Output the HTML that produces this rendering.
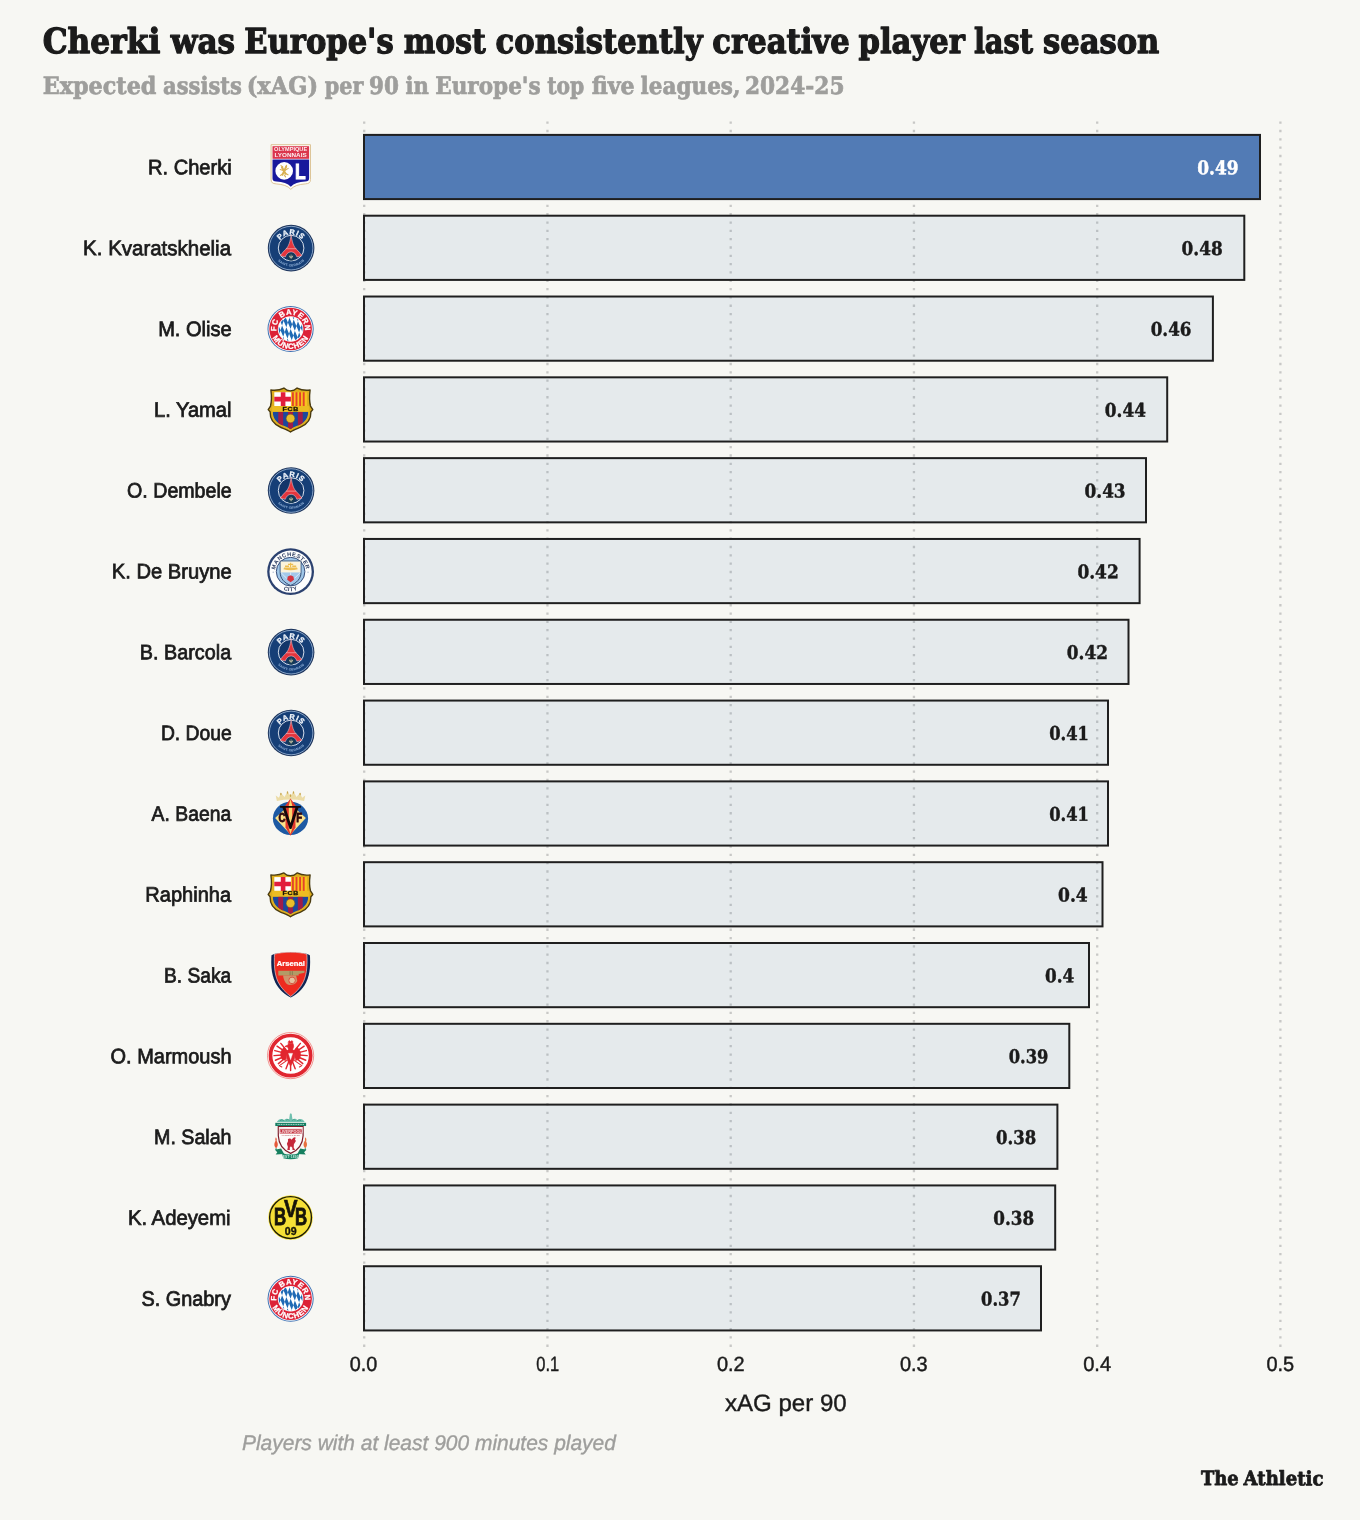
<!DOCTYPE html>
<html lang="en">
<head>
<meta charset="utf-8">
<title>Cherki was Europe's most consistently creative player last season</title>
<style>
html,body{margin:0;padding:0;background:#f7f7f3;}
body{width:1360px;height:1520px;overflow:hidden;}
svg{display:block;}
text{white-space:pre;}
.slab{font-family:"DejaVu Serif", "Liberation Serif", serif;font-weight:bold;}
.sans{font-family:"Liberation Sans", "DejaVu Sans", sans-serif;}
</style>
</head>
<body>
<svg width="1360" height="1520" viewBox="0 0 1360 1520">
<rect x="0" y="0" width="1360" height="1520" fill="#f7f7f3"/>
<g class="slab" font-size="34.4" fill="#1b1b1b" stroke="#1b1b1b" stroke-width="1.3" stroke-linejoin="round"><text transform="translate(42.72,53.00) scale(0.9096,1) rotate(0.03)">Cherki </text>
<text transform="translate(170.78,53.00) scale(0.9022,1) rotate(0.03)">was </text>
<text transform="translate(244.37,53.00) scale(0.8880,1) rotate(0.03)">Europe's </text>
<text transform="translate(403.87,53.00) scale(0.8655,1) rotate(0.03)">most </text>
<text transform="translate(495.59,53.00) scale(0.8905,1) rotate(0.03)">consistently </text>
<text transform="translate(712.34,53.00) scale(0.8918,1) rotate(0.03)">creative </text>
<text transform="translate(858.57,53.00) scale(0.8903,1) rotate(0.03)">player </text>
<text transform="translate(973.90,53.00) scale(0.8384,1) rotate(0.03)">last </text>
<text transform="translate(1042.94,53.00) scale(0.8895,1) rotate(0.03)">season </text></g>
<g class="slab" font-size="24" fill="#9e9e9c" stroke="#9e9e9c" stroke-width="0.7" stroke-linejoin="round"><text transform="translate(42.70,93.90) scale(0.9298,1) rotate(0.03)">Expected </text>
<text transform="translate(163.09,93.90) scale(0.8778,1) rotate(0.03)">assists </text>
<text transform="translate(246.64,93.90) scale(0.9387,1) rotate(0.03)">(xAG) </text>
<text transform="translate(324.68,93.90) scale(0.8649,1) rotate(0.03)">per </text>
<text transform="translate(368.99,93.90) scale(0.8939,1) rotate(0.03)">90 </text>
<text transform="translate(405.59,93.90) scale(0.8783,1) rotate(0.03)">in </text>
<text transform="translate(435.24,93.90) scale(0.8989,1) rotate(0.03)">Europe's </text>
<text transform="translate(547.18,93.90) scale(0.8461,1) rotate(0.03)">top </text>
<text transform="translate(591.65,93.90) scale(0.9223,1) rotate(0.03)">five </text>
<text transform="translate(640.58,93.90) scale(0.8980,1) rotate(0.03)">leagues, </text>
<text transform="translate(744.89,93.90) scale(0.9046,1) rotate(0.03)">2024-25 </text></g>
<g stroke="#c8c8c6" stroke-width="2.3" stroke-dasharray="2.3 6.02" fill="none">
<line x1="364.2" y1="121.55" x2="364.2" y2="1347"/>
<line x1="547.45" y1="121.55" x2="547.45" y2="1347"/>
<line x1="730.7" y1="121.55" x2="730.7" y2="1347"/>
<line x1="913.95" y1="121.55" x2="913.95" y2="1347"/>
<line x1="1097.2" y1="121.55" x2="1097.2" y2="1347"/>
<line x1="1280.4" y1="121.55" x2="1280.4" y2="1347"/>
</g>
<g stroke="#1f1f1f" stroke-width="2.0" fill="#527bb5">
<rect x="364.00" y="134.90" width="896.00" height="64.20" fill-opacity="1"/>
<rect x="364.00" y="215.71" width="880.30" height="64.20" fill-opacity="0.1"/>
<rect x="364.00" y="296.52" width="848.90" height="64.20" fill-opacity="0.1"/>
<rect x="364.00" y="377.33" width="803.20" height="64.20" fill-opacity="0.1"/>
<rect x="364.00" y="458.14" width="782.00" height="64.20" fill-opacity="0.1"/>
<rect x="364.00" y="538.95" width="775.60" height="64.20" fill-opacity="0.1"/>
<rect x="364.00" y="619.76" width="764.50" height="64.20" fill-opacity="0.1"/>
<rect x="364.00" y="700.57" width="744.00" height="64.20" fill-opacity="0.1"/>
<rect x="364.00" y="781.38" width="744.00" height="64.20" fill-opacity="0.1"/>
<rect x="364.00" y="862.19" width="738.50" height="64.20" fill-opacity="0.1"/>
<rect x="364.00" y="943.00" width="725.00" height="64.20" fill-opacity="0.1"/>
<rect x="364.00" y="1023.81" width="705.30" height="64.20" fill-opacity="0.1"/>
<rect x="364.00" y="1104.62" width="693.40" height="64.20" fill-opacity="0.1"/>
<rect x="364.00" y="1185.43" width="691.20" height="64.20" fill-opacity="0.1"/>
<rect x="364.00" y="1266.24" width="677.00" height="64.20" fill-opacity="0.1"/>
</g>
<g class="slab" font-size="18.8" fill="#1b1b1b" stroke="#1b1b1b" stroke-width="0.45">
<text transform="translate(1197.30,174.20) scale(0.9050,1) rotate(0.03)" fill="#ffffff" stroke="#ffffff">0.49</text>
<text transform="translate(1181.61,255.01) scale(0.8989,1) rotate(0.03)">0.48</text>
<text transform="translate(1150.71,335.82) scale(0.8921,1) rotate(0.03)">0.46</text>
<text transform="translate(1104.81,416.63) scale(0.8989,1) rotate(0.03)">0.44</text>
<text transform="translate(1084.51,497.44) scale(0.8981,1) rotate(0.03)">0.43</text>
<text transform="translate(1077.40,578.25) scale(0.9034,1) rotate(0.03)">0.42</text>
<text transform="translate(1066.81,659.06) scale(0.8988,1) rotate(0.03)">0.42</text>
<text transform="translate(1049.23,739.87) scale(0.8687,1) rotate(0.03)">0.41</text>
<text transform="translate(1049.23,820.68) scale(0.8687,1) rotate(0.03)">0.41</text>
<text transform="translate(1058.00,901.49) scale(0.9105,1) rotate(0.03)">0.4</text>
<text transform="translate(1045.01,982.30) scale(0.8944,1) rotate(0.03)">0.4</text>
<text transform="translate(1008.73,1063.11) scale(0.8685,1) rotate(0.03)">0.39</text>
<text transform="translate(996.03,1143.92) scale(0.8786,1) rotate(0.03)">0.38</text>
<text transform="translate(993.31,1224.73) scale(0.8921,1) rotate(0.03)">0.38</text>
<text transform="translate(981.03,1305.54) scale(0.8697,1) rotate(0.03)">0.37</text>
</g>
<g class="sans" font-size="20.8" fill="#1b1b1b" stroke="#1b1b1b" stroke-width="0.75">
<text transform="translate(148.03,174.30) scale(0.9655,1) rotate(0.03)">R. Cherki</text>
<text transform="translate(83.10,255.11) scale(0.9852,1) rotate(0.03)">K. Kvaratskhelia</text>
<text transform="translate(158.13,335.92) scale(0.9654,1) rotate(0.03)">M. Olise</text>
<text transform="translate(153.93,416.73) scale(0.9685,1) rotate(0.03)">L. Yamal</text>
<text transform="translate(127.08,497.54) scale(0.9431,1) rotate(0.03)">O. Dembele</text>
<text transform="translate(111.82,578.35) scale(0.9696,1) rotate(0.03)">K. De Bruyne</text>
<text transform="translate(139.85,659.16) scale(0.9517,1) rotate(0.03)">B. Barcola</text>
<text transform="translate(160.89,739.97) scale(0.9284,1) rotate(0.03)">D. Doue</text>
<text transform="translate(151.60,820.78) scale(0.9299,1) rotate(0.03)">A. Baena</text>
<text transform="translate(145.33,901.59) scale(0.9639,1) rotate(0.03)">Raphinha</text>
<text transform="translate(164.00,982.40) scale(0.9222,1) rotate(0.03)">B. Saka</text>
<text transform="translate(110.56,1063.21) scale(0.9609,1) rotate(0.03)">O. Marmoush</text>
<text transform="translate(154.06,1144.02) scale(0.9446,1) rotate(0.03)">M. Salah</text>
<text transform="translate(127.91,1224.83) scale(0.9762,1) rotate(0.03)">K. Adeyemi</text>
<text transform="translate(141.48,1305.64) scale(0.9560,1) rotate(0.03)">S. Gnabry</text>
</g>
<g transform="translate(290.80,167.00)"><g transform="translate(0,0.1)">
<path d="M-19.7,-22.4 H19.7 V12.2 C19.7,15.6 18.2,16.5 14.6,16.8 C8,17.3 3,18.7 0,22.2 C-3,18.7 -8,17.3 -14.6,16.8 C-18.2,16.5 -19.7,15.6 -19.7,12.2 Z" fill="#fefdfb" stroke="#d9bd8c" stroke-width="0.9"/>
<rect x="-18.3" y="-20.9" width="36.6" height="12.6" fill="#db364d"/>
<path d="M-18.3,-7.5 H18.3 V11.2 C18.3,13.6 17.1,14.3 14.4,14.5 C8,15 3,16.4 0,19.6 C-3,16.4 -8,15 -14.4,14.5 C-17.1,14.3 -18.3,13.6 -18.3,11.2 Z" fill="#18189c"/>
<circle cx="-6.6" cy="3.8" r="8.8" fill="#ffffff"/>
<g fill="none" stroke="#d9b152" stroke-linecap="round" stroke-linejoin="round">
<path d="M-8.8,0.3 L-5.2,6.7 M-4.6,-0.5 L-8.4,7.7" stroke-width="2"/>
<path d="M-10.6,2.5 L-7.6,3.5 M-2.6,1.3 L-5.6,3.3 M-10.4,8.3 L-7.6,6.3 M-2.8,7.7 L-5.2,6.3 M-9.8,-1.5 L-8,-0.1 M-4.2,-1.9 L-5,-0.1 M-6.4,8.1 L-5.2,9.7" stroke-width="1.1"/>
</g>
<text transform="translate(4.3,11.4) scale(0.8,1)" font-family="'Liberation Sans','DejaVu Sans',sans-serif" font-weight="bold" font-size="21.8" fill="#ffffff" stroke="#ffffff" stroke-width="1">L</text>
<g font-family="'Liberation Sans','DejaVu Sans',sans-serif" font-weight="bold" fill="#ffffff" fill-opacity="0.92" text-anchor="middle" font-size="5.6">
<text transform="translate(-0.2,-16.1) scale(1.0,1)">OLYMPIQUE</text>
<text transform="translate(-0.2,-10.3) scale(1.13,1)">LYONNAIS</text>
</g>
</g></g>
<g transform="translate(290.80,247.81)"><g transform="translate(0.3,0.3)">
<circle r="23.3" fill="#1c345c"/>
<circle r="21.8" fill="#163f77" stroke="#a9c6e6" stroke-width="0.75"/>
<circle r="12.8" fill="#12366a" stroke="#e9eff8" stroke-width="0.9"/>
<path d="M0,-13.8 C0.9,-6 2.6,-1.6 5.2,1 C7.4,3.2 9.4,5.4 10.9,7.6 L5.8,8.8 C4.8,6 3,3.8 0,3.8 C-3,3.8 -4.8,6 -5.8,8.8 L-10.9,7.6 C-9.4,5.4 -7.4,3.2 -5.2,1 C-2.6,-1.6 -0.9,-6 0,-13.8 Z" fill="#e4353d" stroke="#f3d9dc" stroke-width="0.5"/>
<path d="M-5.2,0.6 H5.2" stroke="#f4aeb1" stroke-width="0.7" fill="none"/>
<circle cx="0" cy="8.6" r="3.9" fill="#163a55"/>
<path d="M0,6.4 V10.8 M-1.9,8.7 H1.9 M-1.6,7.5 Q-1.6,9.5 0,9.7 Q1.6,9.5 1.6,7.5" stroke="#d9d2b0" stroke-width="0.6" fill="none"/>
<path id="psgA2" d="M-13.7,0 A13.7,13.7 0 0 1 13.7,0" fill="none"/>
<path id="psgB2" d="M-18.4,0 A18.4,18.4 0 0 0 18.4,0" fill="none"/>
<text font-family="'Liberation Sans','DejaVu Sans',sans-serif" font-weight="bold" font-size="7.3" fill="#eef3fa" stroke="#eef3fa" stroke-width="0.3" text-anchor="middle" letter-spacing="0.8"><textPath href="#psgA2" startOffset="50%">PARIS</textPath></text>
<text font-family="'Liberation Sans','DejaVu Sans',sans-serif" font-weight="bold" font-size="3.3" fill="#8fb0d8" text-anchor="middle" letter-spacing="0.25"><textPath href="#psgB2" startOffset="50%">SAINT-GERMAIN</textPath></text>
</g></g>
<g transform="translate(290.80,328.62)"><g transform="translate(-0.2,0.4)">
<circle r="23.1" fill="#3f73b4"/>
<circle r="22.1" fill="#ffffff"/>
<circle r="21.3" fill="#dc2237"/>
<circle r="12.8" fill="#ffffff"/>
<clipPath id="bayC3"><circle r="11.9"/></clipPath>
<g clip-path="url(#bayC3)">
<rect x="-13" y="-13" width="26" height="26" fill="#ffffff"/>
<g transform="rotate(22) skewX(28) scale(0.92,1.25)" fill="#1f6ab5">
<path d="M-17.5,-12 l2.5,-4 2.5,4 -2.5,4z m5,0 l2.5,-4 2.5,4 -2.5,4z m5,0 l2.5,-4 2.5,4 -2.5,4z m5,0 l2.5,-4 2.5,4 -2.5,4z m5,0 l2.5,-4 2.5,4 -2.5,4z m5,0 l2.5,-4 2.5,4 -2.5,4z m5,0 l2.5,-4 2.5,4 -2.5,4z"/>
<path d="M-17.5,-4 l2.5,-4 2.5,4 -2.5,4z m5,0 l2.5,-4 2.5,4 -2.5,4z m5,0 l2.5,-4 2.5,4 -2.5,4z m5,0 l2.5,-4 2.5,4 -2.5,4z m5,0 l2.5,-4 2.5,4 -2.5,4z m5,0 l2.5,-4 2.5,4 -2.5,4z m5,0 l2.5,-4 2.5,4 -2.5,4z"/>
<path d="M-17.5,4 l2.5,-4 2.5,4 -2.5,4z m5,0 l2.5,-4 2.5,4 -2.5,4z m5,0 l2.5,-4 2.5,4 -2.5,4z m5,0 l2.5,-4 2.5,4 -2.5,4z m5,0 l2.5,-4 2.5,4 -2.5,4z m5,0 l2.5,-4 2.5,4 -2.5,4z m5,0 l2.5,-4 2.5,4 -2.5,4z"/>
<path d="M-17.5,12 l2.5,-4 2.5,4 -2.5,4z m5,0 l2.5,-4 2.5,4 -2.5,4z m5,0 l2.5,-4 2.5,4 -2.5,4z m5,0 l2.5,-4 2.5,4 -2.5,4z m5,0 l2.5,-4 2.5,4 -2.5,4z m5,0 l2.5,-4 2.5,4 -2.5,4z m5,0 l2.5,-4 2.5,4 -2.5,4z"/>
</g>
</g>
<path id="bayA3" d="M-14.4,0 A14.4,14.4 0 0 1 14.4,0" fill="none"/>
<path id="bayB3" d="M-19.9,0 A19.9,19.9 0 0 0 19.9,0" fill="none"/>
<g font-family="'Liberation Sans','DejaVu Sans',sans-serif" font-weight="bold" font-size="7.7" fill="#ffffff" stroke="#ffffff" stroke-width="0.25" text-anchor="middle">
<text letter-spacing="0.55"><textPath href="#bayA3" startOffset="50%">FC BAYERN</textPath></text>
<text letter-spacing="0.75"><textPath href="#bayB3" startOffset="50%">MÜNCHEN</textPath></text>
</g>
</g></g>
<g transform="translate(290.80,409.43)"><g transform="translate(-0.3,0.2)">
<path d="M-19.6,-19.6 C-15,-19 -10,-19.8 -6.6,-21.6 C-4.6,-19.6 -2.4,-18.8 0,-18.8 C2.4,-18.8 4.6,-19.6 6.6,-21.6 C10,-19.8 15,-19 19.6,-19.6 C19,-15 18.6,-9 20,-3.6 L22.3,0 L20.4,2.2 C20.6,9 17,14.6 10,17.6 C5.6,19.4 2.4,20.4 0,22.3 C-2.4,20.4 -5.6,19.4 -10,17.6 C-17,14.6 -20.6,9 -20.4,2.2 L-22.3,0 L-20,-3.6 C-18.6,-9 -19,-15 -19.6,-19.6 Z" fill="#dfae1e" stroke="#4a3b10" stroke-width="1.4" stroke-linejoin="round"/>
<rect x="-16.2" y="-17.4" width="16.6" height="13.8" fill="#ffffff"/>
<path d="M-9.7,-17.4 h4.6 v4.6 h5.5 v4.6 h-5.5 v4.6 h-4.6 v-4.6 h-6.5 v-4.6 h6.5 z" fill="#e21d3c"/>
<rect x="0.8" y="-17.4" width="15.6" height="13.8" fill="#f9c51d"/>
<path d="M2.4,-17.4 v13.8 M6,-17.4 v13.8 M9.6,-17.4 v13.8 M13.2,-17.4 v13.8" stroke="#e4432a" stroke-width="1.9"/>
<rect x="-18.4" y="-3.6" width="36.8" height="5.6" fill="#ecbc22"/>
<clipPath id="barC4"><path d="M-17.8,2 H17.8 C17.6,8 14.4,12.8 8.6,15.4 C5,17 2.2,17.9 0,19.6 C-2.2,17.9 -5,17 -8.6,15.4 C-14.4,12.8 -17.6,8 -17.8,2 Z"/></clipPath>
<g clip-path="url(#barC4)">
<rect x="-18" y="2" width="36" height="18" fill="#1b489c"/>
<path d="M-9.8,2 v18 M0,2 v18 M9.8,2 v18" stroke="#a01c48" stroke-width="4.9"/>
</g>
<circle cx="0" cy="8.8" r="4.3" fill="#e9bd2b" stroke="#7a5f10" stroke-width="0.5"/>
<text transform="translate(0.2,1.0) scale(1.3,1)" font-family="'Liberation Sans','DejaVu Sans',sans-serif" font-weight="bold" font-size="5.4" fill="#1a1508" text-anchor="middle" letter-spacing="0.5" stroke="#1a1508" stroke-width="0.3">FCB</text>
</g></g>
<g transform="translate(290.80,490.24)"><g transform="translate(0.3,0.3)">
<circle r="23.3" fill="#1c345c"/>
<circle r="21.8" fill="#163f77" stroke="#a9c6e6" stroke-width="0.75"/>
<circle r="12.8" fill="#12366a" stroke="#e9eff8" stroke-width="0.9"/>
<path d="M0,-13.8 C0.9,-6 2.6,-1.6 5.2,1 C7.4,3.2 9.4,5.4 10.9,7.6 L5.8,8.8 C4.8,6 3,3.8 0,3.8 C-3,3.8 -4.8,6 -5.8,8.8 L-10.9,7.6 C-9.4,5.4 -7.4,3.2 -5.2,1 C-2.6,-1.6 -0.9,-6 0,-13.8 Z" fill="#e4353d" stroke="#f3d9dc" stroke-width="0.5"/>
<path d="M-5.2,0.6 H5.2" stroke="#f4aeb1" stroke-width="0.7" fill="none"/>
<circle cx="0" cy="8.6" r="3.9" fill="#163a55"/>
<path d="M0,6.4 V10.8 M-1.9,8.7 H1.9 M-1.6,7.5 Q-1.6,9.5 0,9.7 Q1.6,9.5 1.6,7.5" stroke="#d9d2b0" stroke-width="0.6" fill="none"/>
<path id="psgA5" d="M-13.7,0 A13.7,13.7 0 0 1 13.7,0" fill="none"/>
<path id="psgB5" d="M-18.4,0 A18.4,18.4 0 0 0 18.4,0" fill="none"/>
<text font-family="'Liberation Sans','DejaVu Sans',sans-serif" font-weight="bold" font-size="7.3" fill="#eef3fa" stroke="#eef3fa" stroke-width="0.3" text-anchor="middle" letter-spacing="0.8"><textPath href="#psgA5" startOffset="50%">PARIS</textPath></text>
<text font-family="'Liberation Sans','DejaVu Sans',sans-serif" font-weight="bold" font-size="3.3" fill="#8fb0d8" text-anchor="middle" letter-spacing="0.25"><textPath href="#psgB5" startOffset="50%">SAINT-GERMAIN</textPath></text>
</g></g>
<g transform="translate(290.80,571.05)"><g transform="translate(-0.2,0.6)">
<circle r="23.4" fill="#2b416f"/>
<circle r="21.1" fill="#fdfdfd"/>
<circle r="14.3" fill="#9fc6e8" stroke="#2b416f" stroke-width="0.9"/>
<path d="M-10.4,-10.6 H10.4 V1 C10.4,7 6,11.4 0,13.8 C-6,11.4 -10.4,7 -10.4,1 Z" fill="#a3c8ea" stroke="#2b3f63" stroke-width="0.9"/>
<path d="M-9.9,-10.1 H9.9 V0.8 H-9.9 Z" fill="#fbf3dc"/>
<path d="M-7.2,-2.4 Q0,-0.6 7.2,-2.4 L6.4,-4.2 H-6.4 Z M-0.6,-8.8 h1.2 v4.4 h-1.2 z M-5.6,-6.2 h4 v1.6 h-4 z M1.6,-6.2 h4 v1.6 h-4 z M-2.6,-7.8 h5.2 v1.2 h-5.2 z" fill="#ecbd52"/>
<path d="M0,3.6 L2.8,4.8 3.4,8 0,10.6 -3.4,8 -2.8,4.8 Z" fill="#d6343f"/>
<path d="M-9.6,1 L-4,6.6 M9.6,1 L4,6.6 M0,1 V3.6" stroke="#ffffff" stroke-width="0.8" opacity="0.75" fill="none"/>
<path id="mcA6" d="M-15.5,0 A15.5,15.5 0 0 1 15.5,0" fill="none"/>
<path id="mcB6" d="M-19.6,0 A19.6,19.6 0 0 0 19.6,0" fill="none"/>
<g font-family="'Liberation Sans','DejaVu Sans',sans-serif" font-weight="bold" fill="#27375c" text-anchor="middle">
<text font-size="5.6" letter-spacing="0.5"><textPath href="#mcA6" startOffset="50%">MANCHESTER</textPath></text>
<text font-size="5.6" letter-spacing="0.5"><textPath href="#mcB6" startOffset="50%">CITY</textPath></text>
</g>
<circle cx="-17.4" cy="0.6" r="0.7" fill="#a9b6cd"/><circle cx="17.4" cy="0.6" r="0.7" fill="#a9b6cd"/>
</g></g>
<g transform="translate(290.80,651.86)"><g transform="translate(0.3,0.3)">
<circle r="23.3" fill="#1c345c"/>
<circle r="21.8" fill="#163f77" stroke="#a9c6e6" stroke-width="0.75"/>
<circle r="12.8" fill="#12366a" stroke="#e9eff8" stroke-width="0.9"/>
<path d="M0,-13.8 C0.9,-6 2.6,-1.6 5.2,1 C7.4,3.2 9.4,5.4 10.9,7.6 L5.8,8.8 C4.8,6 3,3.8 0,3.8 C-3,3.8 -4.8,6 -5.8,8.8 L-10.9,7.6 C-9.4,5.4 -7.4,3.2 -5.2,1 C-2.6,-1.6 -0.9,-6 0,-13.8 Z" fill="#e4353d" stroke="#f3d9dc" stroke-width="0.5"/>
<path d="M-5.2,0.6 H5.2" stroke="#f4aeb1" stroke-width="0.7" fill="none"/>
<circle cx="0" cy="8.6" r="3.9" fill="#163a55"/>
<path d="M0,6.4 V10.8 M-1.9,8.7 H1.9 M-1.6,7.5 Q-1.6,9.5 0,9.7 Q1.6,9.5 1.6,7.5" stroke="#d9d2b0" stroke-width="0.6" fill="none"/>
<path id="psgA7" d="M-13.7,0 A13.7,13.7 0 0 1 13.7,0" fill="none"/>
<path id="psgB7" d="M-18.4,0 A18.4,18.4 0 0 0 18.4,0" fill="none"/>
<text font-family="'Liberation Sans','DejaVu Sans',sans-serif" font-weight="bold" font-size="7.3" fill="#eef3fa" stroke="#eef3fa" stroke-width="0.3" text-anchor="middle" letter-spacing="0.8"><textPath href="#psgA7" startOffset="50%">PARIS</textPath></text>
<text font-family="'Liberation Sans','DejaVu Sans',sans-serif" font-weight="bold" font-size="3.3" fill="#8fb0d8" text-anchor="middle" letter-spacing="0.25"><textPath href="#psgB7" startOffset="50%">SAINT-GERMAIN</textPath></text>
</g></g>
<g transform="translate(290.80,732.67)"><g transform="translate(0.3,0.3)">
<circle r="23.3" fill="#1c345c"/>
<circle r="21.8" fill="#163f77" stroke="#a9c6e6" stroke-width="0.75"/>
<circle r="12.8" fill="#12366a" stroke="#e9eff8" stroke-width="0.9"/>
<path d="M0,-13.8 C0.9,-6 2.6,-1.6 5.2,1 C7.4,3.2 9.4,5.4 10.9,7.6 L5.8,8.8 C4.8,6 3,3.8 0,3.8 C-3,3.8 -4.8,6 -5.8,8.8 L-10.9,7.6 C-9.4,5.4 -7.4,3.2 -5.2,1 C-2.6,-1.6 -0.9,-6 0,-13.8 Z" fill="#e4353d" stroke="#f3d9dc" stroke-width="0.5"/>
<path d="M-5.2,0.6 H5.2" stroke="#f4aeb1" stroke-width="0.7" fill="none"/>
<circle cx="0" cy="8.6" r="3.9" fill="#163a55"/>
<path d="M0,6.4 V10.8 M-1.9,8.7 H1.9 M-1.6,7.5 Q-1.6,9.5 0,9.7 Q1.6,9.5 1.6,7.5" stroke="#d9d2b0" stroke-width="0.6" fill="none"/>
<path id="psgA8" d="M-13.7,0 A13.7,13.7 0 0 1 13.7,0" fill="none"/>
<path id="psgB8" d="M-18.4,0 A18.4,18.4 0 0 0 18.4,0" fill="none"/>
<text font-family="'Liberation Sans','DejaVu Sans',sans-serif" font-weight="bold" font-size="7.3" fill="#eef3fa" stroke="#eef3fa" stroke-width="0.3" text-anchor="middle" letter-spacing="0.8"><textPath href="#psgA8" startOffset="50%">PARIS</textPath></text>
<text font-family="'Liberation Sans','DejaVu Sans',sans-serif" font-weight="bold" font-size="3.3" fill="#8fb0d8" text-anchor="middle" letter-spacing="0.25"><textPath href="#psgB8" startOffset="50%">SAINT-GERMAIN</textPath></text>
</g></g>
<g transform="translate(290.80,813.48)"><g transform="translate(-0.3,0)">
<path d="M-13.6,-12.6 L-14.8,-18 L-11.6,-15.8 L-9.6,-20.6 L-6,-16.6 L-3,-22 L0,-17.4 L3,-22 L6,-16.6 L9.6,-20.6 L11.6,-15.8 L14.8,-18 L13.6,-12.6 Q0,-15.4 -13.6,-12.6 Z" fill="#ecdca6"/>
<path d="M-9.6,-20.2 v1.2 M-3,-21.6 v1.2 M3,-21.6 v1.2 M9.6,-20.2 v1.2 M0,-18.6 v1.4" stroke="#c8a64e" stroke-width="1.3" stroke-linecap="round"/>
<ellipse cx="0" cy="4.9" rx="17.6" ry="16.6" fill="#1d59a3"/>
<path d="M0,-9.6 L15.4,4.4 L0,21 L-15.4,4.4 Z" fill="#fde38a"/>
<path d="M0,-15 L5,-8 L5,14 L0,22.3 L-5,14 L-5,-8 Z" fill="#e2372c"/>
<path d="M0,-14.6 L1.7,-8 V15 L0,20.6 L-1.7,15 V-8 Z" fill="#fbd66e"/>
<path d="M-10.4,-7.6 H10.4 V-5.8 H8 L0.9,15.4 H-0.9 L-8,-5.8 H-10.4 Z M-4.9,-5.8 L0,9.6 L4.9,-5.8 Z" fill="#14090b" fill-rule="evenodd"/>
<g font-family="'Liberation Sans','DejaVu Sans',sans-serif" font-weight="bold" font-size="12" fill="#33090e" stroke="#33090e" stroke-width="0.8" text-anchor="middle">
<text transform="translate(-8.6,8.8) scale(0.8,1)">C</text>
<text transform="translate(8.8,8.8) scale(0.8,1)">F</text>
</g>
</g></g>
<g transform="translate(290.80,894.29)"><g transform="translate(-0.3,0.2)">
<path d="M-19.6,-19.6 C-15,-19 -10,-19.8 -6.6,-21.6 C-4.6,-19.6 -2.4,-18.8 0,-18.8 C2.4,-18.8 4.6,-19.6 6.6,-21.6 C10,-19.8 15,-19 19.6,-19.6 C19,-15 18.6,-9 20,-3.6 L22.3,0 L20.4,2.2 C20.6,9 17,14.6 10,17.6 C5.6,19.4 2.4,20.4 0,22.3 C-2.4,20.4 -5.6,19.4 -10,17.6 C-17,14.6 -20.6,9 -20.4,2.2 L-22.3,0 L-20,-3.6 C-18.6,-9 -19,-15 -19.6,-19.6 Z" fill="#dfae1e" stroke="#4a3b10" stroke-width="1.4" stroke-linejoin="round"/>
<rect x="-16.2" y="-17.4" width="16.6" height="13.8" fill="#ffffff"/>
<path d="M-9.7,-17.4 h4.6 v4.6 h5.5 v4.6 h-5.5 v4.6 h-4.6 v-4.6 h-6.5 v-4.6 h6.5 z" fill="#e21d3c"/>
<rect x="0.8" y="-17.4" width="15.6" height="13.8" fill="#f9c51d"/>
<path d="M2.4,-17.4 v13.8 M6,-17.4 v13.8 M9.6,-17.4 v13.8 M13.2,-17.4 v13.8" stroke="#e4432a" stroke-width="1.9"/>
<rect x="-18.4" y="-3.6" width="36.8" height="5.6" fill="#ecbc22"/>
<clipPath id="barC10"><path d="M-17.8,2 H17.8 C17.6,8 14.4,12.8 8.6,15.4 C5,17 2.2,17.9 0,19.6 C-2.2,17.9 -5,17 -8.6,15.4 C-14.4,12.8 -17.6,8 -17.8,2 Z"/></clipPath>
<g clip-path="url(#barC10)">
<rect x="-18" y="2" width="36" height="18" fill="#1b489c"/>
<path d="M-9.8,2 v18 M0,2 v18 M9.8,2 v18" stroke="#a01c48" stroke-width="4.9"/>
</g>
<circle cx="0" cy="8.8" r="4.3" fill="#e9bd2b" stroke="#7a5f10" stroke-width="0.5"/>
<text transform="translate(0.2,1.0) scale(1.3,1)" font-family="'Liberation Sans','DejaVu Sans',sans-serif" font-weight="bold" font-size="5.4" fill="#1a1508" text-anchor="middle" letter-spacing="0.5" stroke="#1a1508" stroke-width="0.3">FCB</text>
</g></g>
<g transform="translate(290.80,975.10)"><g transform="translate(-0.1,0.1)">
<path d="M-19.2,-20 C-12,-23.8 12,-23.8 19.2,-20 C19.7,-12 19.8,-2 15.4,7.2 C11.6,15 5,19.6 0,22.4 C-5,19.6 -11.6,15 -15.4,7.2 C-19.8,-2 -19.7,-12 -19.2,-20 Z" fill="#0f2352"/>
<path d="M-16.2,-21 C-9,-23.6 9,-23.6 16.2,-21 C16.6,-12 16.6,-2 12.8,6.4 C9.6,13.2 4.4,18 0,21.2 C-4.4,18 -9.6,13.2 -12.8,6.4 C-16.6,-2 -16.6,-12 -16.2,-21 Z" fill="#ee2a1f" stroke="#f6e3df" stroke-width="0.6"/>
<path d="M-12.4,-4.4 H13.8 V-2.4 L8,-1.2 V0.2 H-12.4 Z" fill="#b39b66"/>
<path d="M-7.6,0.2 H5.4 L6.6,5.8 C5,8.8 2,9.8 -1.6,9.8 C-5,8.8 -7,5.2 -7.6,0.2 Z" fill="#c9a67a" opacity="0.85"/>
<circle cx="1.4" cy="5.2" r="3.3" fill="#e6c3a0" stroke="#d9533f" stroke-width="1"/>
<path d="M-0.6,-4 V0 M1.6,-4 V0" stroke="#5c5a3c" stroke-width="0.5"/>
<text transform="translate(0.1,-9.2) scale(0.94,1)" font-family="'Liberation Sans','DejaVu Sans',sans-serif" font-weight="bold" font-size="8.1" fill="#ffffff" stroke="#ffffff" stroke-width="0.25" text-anchor="middle">Arsenal</text>
</g></g>
<g transform="translate(290.80,1055.91)"><g transform="translate(-0.2,-0.3)">
<circle r="23.1" fill="#fdf6f4" stroke="#ee6a66" stroke-width="0.7"/>
<circle r="20.1" fill="#ffffff" stroke="#e02630" stroke-width="3.7"/>
<g fill="#e2262f" stroke="#e2262f" stroke-linecap="round" stroke-linejoin="round">
<path d="M-2.4,-13.8 L-1.4,-15.2 L0,-14 L1.4,-15.2 L2.4,-13.8 L2,-12.6 H-2 Z" stroke-width="0.4"/>
<path d="M-2,-12.2 H2.4 L3,-9 L2,-6.4 L4.4,-3 L3.4,4 L0,10.4 L-3.4,4 L-4.4,-3 L-2,-6.4 L-2.8,-8.6 L-5.6,-9.2 L-2.6,-10.6 Z" stroke-width="0.8"/>
<path d="M-3,-5 L-7,-8 L-9.6,-4 L-10,0 L-8.6,3.6 L-5,5 Z M3,-5 L7,-8 L9.6,-4 L10,0 L8.6,3.6 L5,5 Z" stroke-width="0.6"/>
<g stroke-width="1.45" fill="none">
<path d="M-5,-6.4 L-9.8,-12.2 M-7,-5 L-13.6,-9.4 M-8,-3 L-15.8,-5 M-8.4,-0.6 L-16.6,0 M-8,1.6 L-15.2,4.6 M-6.6,3.4 L-12.2,8"/>
<path d="M5,-6.4 L9.8,-12.2 M7,-5 L13.6,-9.4 M8,-3 L15.8,-5 M8.4,-0.6 L16.6,0 M8,1.6 L15.2,4.6 M6.6,3.4 L12.2,8"/>
<path d="M-1.8,6 L-4.6,13.2 M0,7 V15 M1.8,6 L4.6,13.2"/>
<path d="M-4,5 L-11.2,10 L-8.8,11.4 M4,5 L11.2,10 L8.8,11.4" stroke-width="1.1"/>
</g>
</g>
<path d="M-2.2,-2.4 H2.2 L0,4.4 Z" fill="#ffffff" stroke="#f2c4c2" stroke-width="0.3"/>
</g></g>
<g transform="translate(290.80,1136.72)"><g transform="translate(-0.3,0)">
<path d="M-13.6,-14.6 C-12,-18 -8.6,-18.4 -6.4,-16.6 C-4.4,-18.6 -2.4,-18.4 -1.4,-17 L-0.6,-22.6 L0.3,-23.4 L1.2,-22.6 L2,-17 C3,-18.4 5,-18.6 7,-16.6 C9.2,-18.4 12.6,-18 14.2,-14.6 Z" fill="#6fc0ae"/>
<path d="M-10.6,-16 q2,-1.6 4,0 M6.6,-16 q2,-1.6 4,0 M-4.6,-16.4 q2,-1.4 3.6,0 M1.4,-16.4 q2,-1.4 3.6,0" stroke="#2f927c" stroke-width="0.7" fill="none"/>
<rect x="-15.2" y="-13.9" width="30.8" height="3.2" fill="#157d62"/>
<path d="M-13,-12.3 H13.4" stroke="#bfe5da" stroke-width="0.9" stroke-dasharray="1.1 0.6" fill="none"/>
<path d="M-12.2,-10.2 H12.6 V-1 C12.2,7.4 8,13.4 0.2,16.6 C-7.6,13.4 -11.8,7.4 -12.2,-1 Z" fill="#fdfbfa" stroke="#7d1c2a" stroke-width="1.2"/>
<path d="M-11.6,-9.6 Q0.2,-7.2 12,-9.6 V-3.4 H-11.6 Z" fill="#f7e4e4"/>
<rect x="-10.8" y="-7.4" width="22" height="4.2" fill="#c3323f"/>
<text transform="translate(0.2,-4.2) scale(1.02,1)" font-family="'Liberation Sans','DejaVu Sans',sans-serif" font-weight="bold" font-size="3.7" fill="#fbeaea" text-anchor="middle" letter-spacing="0.1">LIVERPOOL</text>
<text transform="translate(0.2,-1.2)" font-family="'Liberation Sans','DejaVu Sans',sans-serif" font-weight="bold" font-size="1.9" fill="#b9606a" text-anchor="middle" letter-spacing="0.15">FOOTBALL CLUB</text>
<path d="M-2.6,2.6 C-1.6,1.4 0.4,1.6 0.8,3 L3.6,0.6 L5.4,1 L4.4,2.6 L5.4,4.4 L3.4,7.6 L3.2,10.8 L4.6,13.4 H2 L1.8,11 L0.4,9.6 L-0.8,11 L-0.6,13.4 H-3.2 L-2.6,10.2 L-3.6,7 L-2.4,4.4 Z" fill="#c5283a"/>
<path d="M-14.4,3.6 C-16.8,6.6 -16.6,9.6 -14.4,11.6 C-12.2,9.6 -12,6.6 -14.4,3.6 Z M-14.6,0.6 C-15.6,2.4 -15.2,4 -14.2,5.2 C-13.4,3.6 -13.6,2 -14.6,0.6 Z" fill="#e5583a"/>
<path d="M14.8,3.6 C12.4,6.6 12.6,9.6 14.8,11.6 C17,9.6 17.2,6.6 14.8,3.6 Z M15,0.6 C14,2.4 14.4,4 15.4,5.2 C16.2,3.6 16,2 15,0.6 Z" fill="#e8703f"/>
<path d="M-14.4,11.6 V13.4 M14.8,11.6 V13.4" stroke="#2f8d6f" stroke-width="1.2"/>
<path d="M-15.6,13 L-9.4,11.8 L-6.4,17.4 L-14.8,17.8 L-13.2,15.6 Z M16,13 L9.8,11.8 L6.8,17.4 L15.2,17.8 L13.6,15.6 Z" fill="#16805f"/>
<path d="M-8.6,16.4 Q0.2,19.4 9,16.4 L7.6,21.6 Q0.2,23.4 -7.2,21.6 Z" fill="#1b8768"/>
<text transform="translate(0.2,21)" font-family="'Liberation Sans','DejaVu Sans',sans-serif" font-weight="bold" font-size="3.2" fill="#c9eadf" text-anchor="middle" letter-spacing="0.2">EST·1892</text>
</g></g>
<g transform="translate(290.80,1217.53)"><g transform="translate(-0.25,0)">
<circle r="22.3" fill="#f7e33a"/>
<circle r="20.9" fill="#f6e036" stroke="#1c1a0a" stroke-width="1.4"/>
<g font-family="'Liberation Sans','DejaVu Sans',sans-serif" font-weight="bold" fill="#171409" stroke="#171409" text-anchor="middle">
<text transform="translate(-10.4,7.6) scale(0.72,1)" font-size="23.4" stroke-width="0.9">B</text>
<text transform="translate(10.5,7.6) scale(0.72,1)" font-size="23.4" stroke-width="0.9">B</text>
<text transform="translate(0.3,-0.2) scale(0.86,1)" font-size="23.6" stroke-width="0.7">V</text>
<text transform="translate(0.2,17.0) scale(0.98,1)" font-size="10.8" stroke-width="0.35">09</text>
</g>
</g></g>
<g transform="translate(290.80,1298.34)"><g transform="translate(-0.2,0.4)">
<circle r="23.1" fill="#3f73b4"/>
<circle r="22.1" fill="#ffffff"/>
<circle r="21.3" fill="#dc2237"/>
<circle r="12.8" fill="#ffffff"/>
<clipPath id="bayC15"><circle r="11.9"/></clipPath>
<g clip-path="url(#bayC15)">
<rect x="-13" y="-13" width="26" height="26" fill="#ffffff"/>
<g transform="rotate(22) skewX(28) scale(0.92,1.25)" fill="#1f6ab5">
<path d="M-17.5,-12 l2.5,-4 2.5,4 -2.5,4z m5,0 l2.5,-4 2.5,4 -2.5,4z m5,0 l2.5,-4 2.5,4 -2.5,4z m5,0 l2.5,-4 2.5,4 -2.5,4z m5,0 l2.5,-4 2.5,4 -2.5,4z m5,0 l2.5,-4 2.5,4 -2.5,4z m5,0 l2.5,-4 2.5,4 -2.5,4z"/>
<path d="M-17.5,-4 l2.5,-4 2.5,4 -2.5,4z m5,0 l2.5,-4 2.5,4 -2.5,4z m5,0 l2.5,-4 2.5,4 -2.5,4z m5,0 l2.5,-4 2.5,4 -2.5,4z m5,0 l2.5,-4 2.5,4 -2.5,4z m5,0 l2.5,-4 2.5,4 -2.5,4z m5,0 l2.5,-4 2.5,4 -2.5,4z"/>
<path d="M-17.5,4 l2.5,-4 2.5,4 -2.5,4z m5,0 l2.5,-4 2.5,4 -2.5,4z m5,0 l2.5,-4 2.5,4 -2.5,4z m5,0 l2.5,-4 2.5,4 -2.5,4z m5,0 l2.5,-4 2.5,4 -2.5,4z m5,0 l2.5,-4 2.5,4 -2.5,4z m5,0 l2.5,-4 2.5,4 -2.5,4z"/>
<path d="M-17.5,12 l2.5,-4 2.5,4 -2.5,4z m5,0 l2.5,-4 2.5,4 -2.5,4z m5,0 l2.5,-4 2.5,4 -2.5,4z m5,0 l2.5,-4 2.5,4 -2.5,4z m5,0 l2.5,-4 2.5,4 -2.5,4z m5,0 l2.5,-4 2.5,4 -2.5,4z m5,0 l2.5,-4 2.5,4 -2.5,4z"/>
</g>
</g>
<path id="bayA15" d="M-14.4,0 A14.4,14.4 0 0 1 14.4,0" fill="none"/>
<path id="bayB15" d="M-19.9,0 A19.9,19.9 0 0 0 19.9,0" fill="none"/>
<g font-family="'Liberation Sans','DejaVu Sans',sans-serif" font-weight="bold" font-size="7.7" fill="#ffffff" stroke="#ffffff" stroke-width="0.25" text-anchor="middle">
<text letter-spacing="0.55"><textPath href="#bayA15" startOffset="50%">FC BAYERN</textPath></text>
<text letter-spacing="0.75"><textPath href="#bayB15" startOffset="50%">MÜNCHEN</textPath></text>
</g>
</g></g>
<g class="sans" font-size="20.6" fill="#1b1b1b" stroke="#1b1b1b" stroke-width="0.45">
<text transform="translate(349.68,1371.00) scale(0.9607,1) rotate(0.03)">0.0</text>
<text transform="translate(536.29,1371.00) scale(0.7990,1) rotate(0.03)">0.1</text>
<text transform="translate(716.88,1371.00) scale(0.9684,1) rotate(0.03)">0.2</text>
<text transform="translate(899.98,1371.00) scale(0.9684,1) rotate(0.03)">0.3</text>
<text transform="translate(1083.17,1371.00) scale(0.9753,1) rotate(0.03)">0.4</text>
<text transform="translate(1266.38,1371.00) scale(0.9684,1) rotate(0.03)">0.5</text>
</g>
<g class="sans" font-size="23.8" fill="#1b1b1b" stroke="#1b1b1b" stroke-width="0.4"><text transform="translate(724.90,1411.00) scale(1.0126,1) rotate(0.03)">xAG per 90</text></g>
<g class="sans" font-size="21.3" font-style="italic" fill="#9e9e9c" stroke="#9e9e9c" stroke-width="0.35"><text transform="translate(241.97,1449.90) scale(0.9842,1) rotate(0.03)">Players with at least 900 minutes played</text></g>
<g class="slab" font-size="19.6" fill="#1b1b1b" stroke="#1b1b1b" stroke-width="0.8" stroke-linejoin="round"><text transform="translate(1201.05,1485.10) scale(0.9130,1) rotate(0.03)">The </text>
<text transform="translate(1243.58,1485.10) scale(0.9238,1) rotate(0.03)">Athletic </text></g>
</svg>
</body>
</html>
